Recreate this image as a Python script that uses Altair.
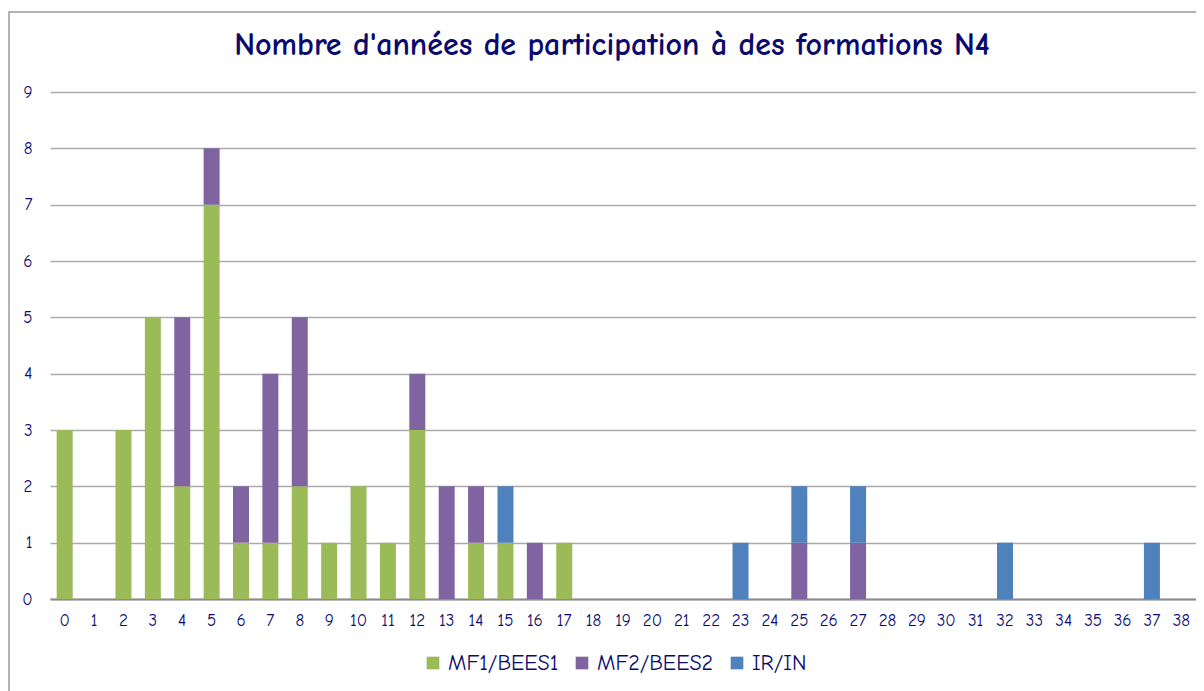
import altair as alt
import pandas as pd

years = list(range(39))
series = ["MF1/BEES1", "MF2/BEES2", "IR/IN"]
mf1 = [3, 0, 3, 5, 2, 7, 1, 1, 2, 1, 2, 1, 3, 0, 1, 1, 0, 1, 0, 0,
       0, 0, 0, 0, 0, 0, 0, 0, 0, 0, 0, 0, 0, 0, 0, 0, 0, 0, 0]
mf2 = [0, 0, 0, 0, 3, 1, 1, 3, 3, 0, 0, 0, 1, 2, 1, 0, 1, 0, 0, 0,
       0, 0, 0, 0, 0, 1, 0, 1, 0, 0, 0, 0, 0, 0, 0, 0, 0, 0, 0]
ir = [0, 0, 0, 0, 0, 0, 0, 0, 0, 0, 0, 0, 0, 0, 0, 1, 0, 0, 0, 0,
      0, 0, 0, 1, 0, 1, 0, 1, 0, 0, 0, 0, 1, 0, 0, 0, 0, 1, 0]
colors = ["#9BBB59", "#8064A2", "#4F81BD"]

rows = []
for i, y in enumerate(years):
    for k, (name, vals) in enumerate(zip(series, [mf1, mf2, ir])):
        rows.append({"annee": str(y), "serie": name, "n": vals[i], "ordre": k})
df = pd.DataFrame(rows)

FONT = "Comic Sans MS, Comic Neue, DejaVu Sans"
NAVY = "#0A0A6E"

bars = alt.Chart(df).mark_bar(size=16).encode(
    x=alt.X("annee:N", sort=[str(y) for y in years], title=None,
            axis=alt.Axis(labelAngle=0, ticks=False, labelPadding=13,
                          domainColor="#8C8C8C", domainWidth=2)),
    y=alt.Y("n:Q", stack="zero", title=None,
            scale=alt.Scale(domain=[0, 9]),
            axis=alt.Axis(values=list(range(10)), domain=False, ticks=False,
                          labelPadding=18, gridColor="#AAAAAA", gridWidth=1.5)),
    color=alt.Color("serie:N", sort=series,
                    scale=alt.Scale(domain=series, range=colors),
                    legend=alt.Legend(title=None, orient="none", direction="horizontal",
                                      legendX=372, legendY=560,
                                      symbolType="square", symbolSize=160,
                                      symbolStrokeWidth=0)),
    order=alt.Order("ordre:Q"),
)

border = alt.Chart(pd.DataFrame({"b": [0]})).mark_rect(
    fill=None, stroke="#9A9A9A", strokeWidth=1.5, clip=False
).encode(x=alt.value(-41), x2=alt.value(1200), y=alt.value(-80), y2=alt.value(700))

chart = alt.layer(border, bars).properties(
    width=1146, height=507,
    title=alt.TitleParams("Nombre d'années de participation à des formations N4",
                          fontSize=32, font=FONT, color=NAVY, fontWeight="bold",
                          anchor="middle", frame="group", offset=-51, dx=-11),
    autosize=alt.AutoSizeParams(type="none"),
    padding={"left": 42, "top": 84, "right": 0, "bottom": 92},
).configure_axis(
    labelFont=FONT, labelFontSize=17, labelColor=NAVY
).configure_legend(
    labelFont=FONT, labelFontSize=22, labelColor=NAVY, labelLimit=300,
    columnPadding=12, symbolSize=160
).configure_view(stroke=None)

chart.save("out.html", embed_options={"renderer": "svg", "actions": False})
